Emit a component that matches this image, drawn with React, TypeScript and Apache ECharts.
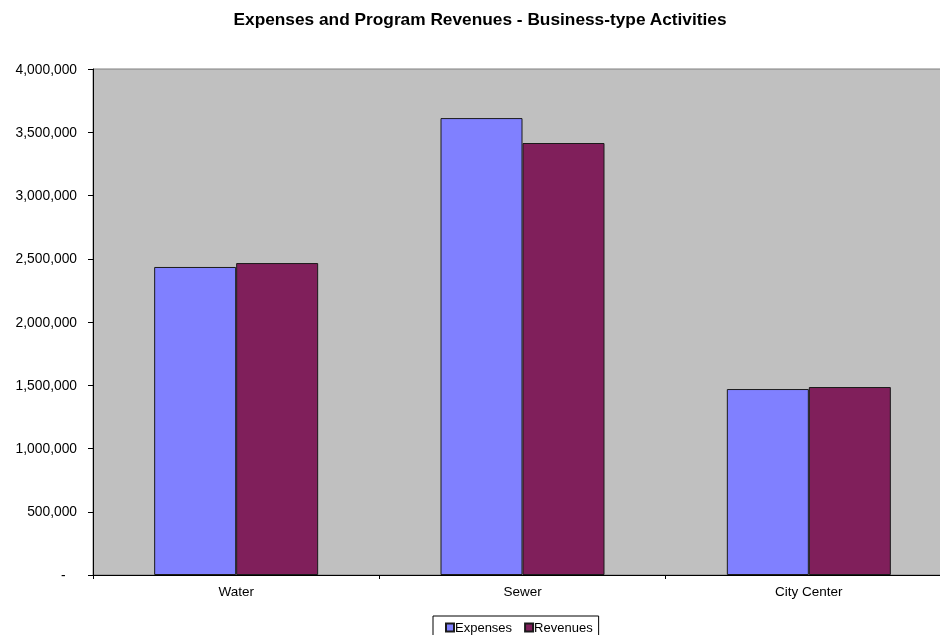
import React, { useEffect, useRef } from "react";
import * as echarts from "echarts";

const categories = ["Water", "Sewer", "City Center"];
const expenses = [2435000, 3612000, 1470000];
const revenues = [2466000, 3415000, 1486000];
const seriesNames = ["Expenses", "Revenues"];
const titleText = "Expenses and Program Revenues - Business-type Activities";

export default function App() {
  const ref = useRef<HTMLDivElement>(null);
  useEffect(() => {
    const chart = echarts.init(ref.current!, null, { renderer: "svg" });
    const font = "'Liberation Sans', Arial, sans-serif";
    chart.setOption({
      animation: false,
      textStyle: { fontFamily: font },
      title: {
        text: titleText,
        left: "center",
        top: 5,
        textStyle: { fontSize: 17.3, fontWeight: "bold", color: "#000", fontFamily: font },
      },
      legend: {
        data: seriesNames,
        left: 433,
        top: 616,
        orient: "horizontal",
        icon: "rect",
        itemWidth: 8,
        itemHeight: 8,
        itemGap: 12,
        padding: [5, 6, 6, 12],
        borderColor: "#000",
        borderWidth: 1,
        textStyle: { fontSize: 13, color: "#000", fontFamily: font, padding: [0, 0, 0, -4] },
      },
      grid: {
        left: 93,
        right: 8,
        top: 69,
        bottom: 60,
        show: true,
        backgroundColor: "#C0C0C0",
        borderColor: "#808080",
        borderWidth: 1,
        containLabel: false,
      },
      xAxis: {
        type: "category",
        data: categories,
        axisLine: { lineStyle: { color: "#000", width: 1 } },
        axisTick: { show: true, length: 4, lineStyle: { color: "#000" } },
        axisLabel: { color: "#000", fontSize: 13.5, margin: 9, fontFamily: font },
        splitLine: { show: false },
      },
      yAxis: {
        type: "value",
        min: 0,
        max: 4000000,
        interval: 500000,
        axisLine: { show: true, lineStyle: { color: "#000", width: 1 } },
        axisTick: { show: true, length: 5, lineStyle: { color: "#000" } },
        axisLabel: {
          color: "#000",
          fontSize: 13.8,
          margin: 16,
          fontFamily: font,
          formatter: (v: number) => (v === 0 ? "-   " : v.toLocaleString("en-US")),
        },
        splitLine: { show: false },
      },
      series: [
        {
          name: seriesNames[0],
          type: "bar",
          data: expenses,
          barWidth: 82,
          barGap: "0%",
          itemStyle: { color: "#8080FF", borderColor: "#1a1a1a", borderWidth: 1 },
        },
        {
          name: seriesNames[1],
          type: "bar",
          data: revenues,
          barWidth: 82,
          barGap: "0%",
          itemStyle: { color: "#801F5B", borderColor: "#1a1a1a", borderWidth: 1 },
        },
      ],
    });
    return () => chart.dispose();
  }, []);
  return (
    <div
      ref={ref}
      style={{ position: "fixed", left: 0, top: 0, width: 960, height: 635 }}
    />
  );
}
